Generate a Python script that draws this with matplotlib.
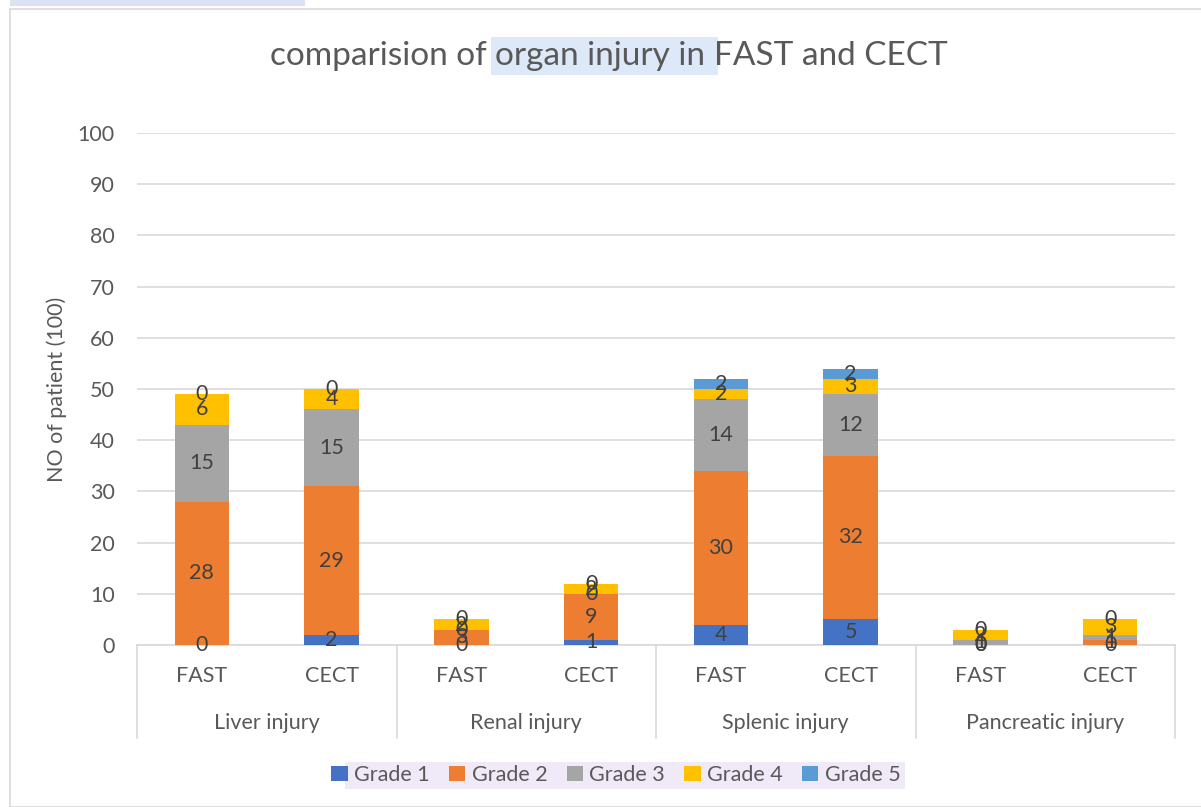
import matplotlib
matplotlib.use("Agg")
import matplotlib.pyplot as plt
from matplotlib.patches import Rectangle
import numpy as np

plt.rcParams['font.family'] = ['Lato', 'DejaVu Sans']

# data
organs = ["Liver injury", "Renal injury", "Splenic injury", "Pancreatic injury"]
methods = ["FAST", "CECT"]
grades = ["Grade 1", "Grade 2", "Grade 3", "Grade 4", "Grade 5"]
grade1 = [0, 2, 0, 1, 4, 5, 0, 0]
grade2 = [28, 29, 3, 9, 30, 32, 0, 1]
grade3 = [15, 15, 0, 0, 14, 12, 1, 1]
grade4 = [6, 4, 2, 2, 2, 3, 2, 3]
grade5 = [0, 0, 0, 0, 2, 2, 0, 0]
colors = ["#4472C4", "#ED7D31", "#A5A5A5", "#FFC000", "#5B9BD5"]

W, H = 1201, 807
FS = 15.5
fig = plt.figure(figsize=(W / 100, H / 100), dpi=100)

# outer chart border and highlights
fig.patches.append(Rectangle((10 / W, 0), 1.2, 1 - 9 / H, transform=fig.transFigure,
                             fill=False, edgecolor="#D9D9D9", lw=1.2, zorder=-1))
fig.patches.append(Rectangle((10 / W, 1 - 6 / H), 295 / W, 6 / H, transform=fig.transFigure,
                             facecolor="#DAE3F3", edgecolor="none", zorder=-1))
fig.patches.append(Rectangle((345 / W, 1 - 789 / H), 560 / W, 27 / H, transform=fig.transFigure,
                             facecolor="#EFE9F8", edgecolor="none", zorder=-1))

ax = fig.add_axes([137 / W, 1 - 645 / H, (1175 - 137) / W, (645 - 133) / H])
x = np.arange(len(grade1))
series = [grade1, grade2, grade3, grade4, grade5]
bottom = np.zeros(len(x))
for vals, c, g in zip(series, colors, grades):
    vals = np.array(vals, dtype=float)
    ax.bar(x, vals, 0.42, bottom=bottom, color=c, label=g, zorder=3)
    for xi, b, v in zip(x, bottom, vals):
        ax.text(xi, b + v / 2, f"{int(v)}", ha="center", va="center",
                fontsize=FS, color="#404040", zorder=4)
    bottom += vals

ax.set_xlim(-0.5, len(x) - 0.5)
ax.set_ylim(0, 100)
ax.set_yticks(range(0, 101, 10))
ax.tick_params(axis="y", length=0, labelsize=FS, labelcolor="#595959", pad=16)
ax.yaxis.grid(True, color="#D9D9D9", lw=1.2, zorder=0)
for s in ["top", "right", "left"]:
    ax.spines[s].set_visible(False)
ax.spines["bottom"].set_color("#D9D9D9")
ax.spines["bottom"].set_linewidth(1.2)
ax.set_xticks([])

# multi-level category axis
tr = ax.get_xaxis_transform()
for i, xi in enumerate(x):
    ax.text(xi, -0.06, methods[i % 2], transform=tr, ha="center", va="center",
            fontsize=FS, color="#595959")
for j, org in enumerate(organs):
    ax.text(2 * j + 0.5, -0.152, org, transform=tr, ha="center", va="center",
            fontsize=FS, color="#595959")
for b in np.arange(-0.5, len(x), 2):
    ax.plot([b, b], [0, -93 / 512], transform=tr, color="#D9D9D9", lw=1.2, clip_on=False)

ax.set_ylabel("NO of patient (100)", fontsize=FS, color="#595959", labelpad=8)

# title in three pieces so the middle one can carry the highlight
t1 = fig.text(270 / W, 1 - 56 / H, "comparision of ", ha="left", va="center",
              fontsize=24, color="#595959")
t2 = ax.annotate("organ injury in ", xy=(1, 0), xycoords=t1, ha="left", va="bottom",
                 fontsize=24, color="#595959", annotation_clip=False,
                 bbox=dict(boxstyle="square,pad=0.12", facecolor="#DDE8F8", edgecolor="none"))
ax.annotate("FAST and CECT", xy=(1, 0), xycoords=t2, ha="left", va="bottom",
            fontsize=24, color="#595959", annotation_clip=False)

fig.legend(*ax.get_legend_handles_labels(), loc="center",
           bbox_to_anchor=(616 / W, 1 - 775 / H), bbox_transform=fig.transFigure,
           ncol=5, frameon=False, fontsize=FS, handlelength=0.75, handleheight=0.75,
           handletextpad=0.3, columnspacing=0.9, labelcolor="#595959")

fig.savefig("out.png", dpi=100)
